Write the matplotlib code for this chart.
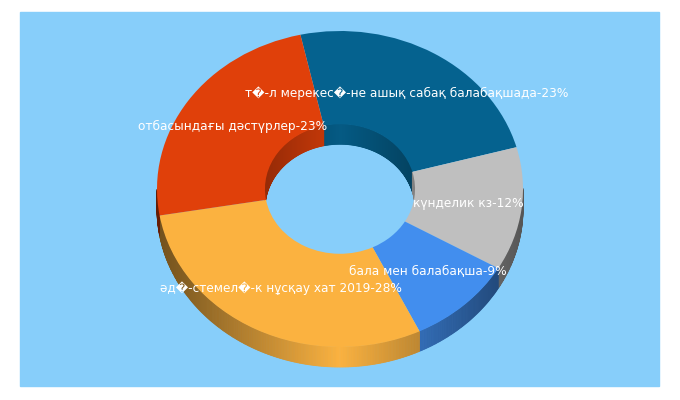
import numpy as np
import matplotlib.pyplot as plt
from matplotlib.patches import Rectangle
from matplotlib.colors import to_rgb

# data (clockwise from the top)
categories = [
    "т\ufffd-л мерекес\ufffd-не ашық сабақ балабақшада",
    "күнделик кз",
    "бала мен балабақша",
    "әд\ufffd-стемел\ufffd-к нұсқау хат 2019",
    "отбасындағы дәстүрлер",
]
percents = [23, 12, 9, 28, 23]
colors = ["#05628F", "#BFBFBF", "#428EEE", "#FBB240", "#E0400A"]
labels = [f"{c}-{p}%" for c, p in zip(categories, percents)]

# geometry in pixels
W, H = 680, 400
cx, cy = 340, 189       # centre of top face
rx, ry = 183, 158       # outer radii
hole = 0.41             # inner radius fraction
depth = 20              # thickness of the ring

fig = plt.figure(figsize=(6.8, 4.0), dpi=100)
ax = fig.add_axes([0, 0, 1, 1])

wedges, texts = ax.pie(
    percents, colors=colors, labels=labels, startangle=102.5,
    counterclock=False, radius=1, labeldistance=(1 + hole) / 2,
    wedgeprops=dict(width=1 - hole, linewidth=0, zorder=3),
    textprops=dict(color="white", fontsize=8.7, zorder=5),
)

# axes units: 1 unit = rx pixels across, ry pixels down -> ellipse
ax.set_aspect("auto")
ax.set_xlim(-cx / rx, (W - cx) / rx)
ax.set_ylim((cy - H) / ry, cy / ry)
ax.axis("off")

for t in texts:
    t.set_ha("center")
    t.set_va("center")

# background panel
ax.add_patch(Rectangle(((20 - cx) / rx, (cy - 386) / ry), 639 / rx, 374 / ry,
                       color="#87CEFA", zorder=0))

# side walls: outer wall on the front, inner wall seen through the hole
dz = depth / ry
for w, col in zip(wedges, colors):
    base = np.array(to_rgb(col))
    n = max(int(abs(w.theta2 - w.theta1) * 2), 2)
    angs = np.radians(np.linspace(w.theta1, w.theta2, n + 1))
    for a0, a1 in zip(angs[:-1], angs[1:]):
        am = (a0 + a1) / 2
        if np.sin(am) < 0:
            r = 1.0
            shade = 1 - 0.55 * abs(np.cos(am))
        else:
            r = hole
            shade = 0.92 - 0.25 * abs(np.cos(am))
        c = np.clip(base * shade, 0, 1)
        xs = [r * np.cos(a0), r * np.cos(a1), r * np.cos(a1), r * np.cos(a0)]
        ys = [r * np.sin(a0), r * np.sin(a1), r * np.sin(a1) - dz, r * np.sin(a0) - dz]
        ax.fill(xs, ys, color=c, lw=0.6, zorder=2)

fig.savefig("out.png", dpi=100, facecolor="white")
